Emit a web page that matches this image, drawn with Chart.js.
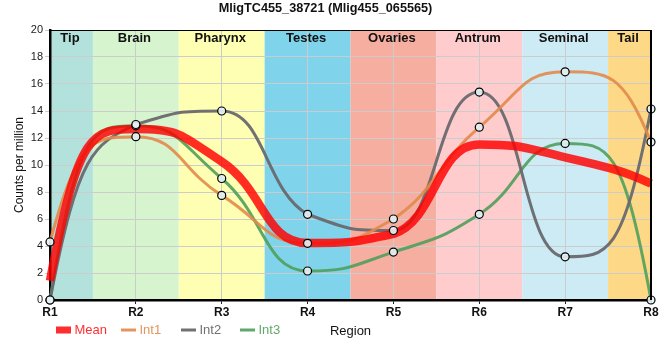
<!DOCTYPE html>
<html><head><meta charset="utf-8">
<script src="https://cdn.jsdelivr.net/npm/chart.js@4.4.1/dist/chart.umd.min.js"></script>
<style>html,body{margin:0;padding:0;background:#fff}#wrap{width:660px;height:360px}</style>
</head><body><div id="wrap"><canvas id="c" width="660" height="360"></canvas></div>
<script>
const regions = ['R1','R2','R3','R4','R5','R6','R7','R8'];
const bandNames = ['Tip','Brain','Pharynx','Testes','Ovaries','Antrum','Seminal','Tail'];
const bandColors = ['#b3e2dd','#d6f5cf','#ffffb3','#7fd3ea','#f5aea0','#ffccce','#cdebf5','#fdd987'];
const seriesNames = ['Mean','Int1','Int2','Int3'];
const meanValues = [1.43, 12.67, 10.25, 4.22, 4.90, 11.52, 10.57, 8.62];
const int1Values = [4.3, 12.1, 7.75, 4.2, 6.0, 12.8, 16.9, 11.7];
const int2Values = [0, 13.0, 14.0, 6.35, 5.15, 15.4, 3.2, 14.15];
const int3Values = [0, 12.9, 9.0, 2.15, 3.55, 6.35, 11.6, 0];
const yMin = 0, yMax = 20, yStep = 2;

const FONT = "'Liberation Sans', Arial, sans-serif";
const meanColor = 'rgba(255,0,0,0.82)';
const intColors = ['rgba(226,138,74,0.9)','rgba(105,105,110,0.95)','rgba(80,158,92,0.9)'];
const intValues = [int1Values, int2Values, int3Values];

const datasets = [];
datasets.push({label: seriesNames[0], data: meanValues, borderColor: meanColor, backgroundColor: meanColor,
  borderWidth: 8.5, pointRadius: 0, cubicInterpolationMode: 'monotone', fill: false, order: 1, clip: false});
intValues.forEach((vals, i) => {
  datasets.push({label: seriesNames[i+1], data: vals, borderColor: intColors[i], backgroundColor: intColors[i],
    borderWidth: 3, pointRadius: 0, cubicInterpolationMode: 'monotone', fill: false, order: 2, clip: false});
});
intValues.forEach((vals, i) => {
  datasets.push({label: seriesNames[i+1] + ' points', data: vals, showLine: false, pointRadius: 4,
    pointBorderWidth: 1.2, pointBorderColor: '#000', pointBackgroundColor: 'rgba(228,242,246,0.9)', order: 0, clip: false});
});

// reshape the library's own monotone curve handles (longer arms, steeper ends)
const ARM = 0.5;
const curvePlugin = {
  id: 'curveShape',
  beforeDatasetsDraw(chart) {
    chart.data.datasets.forEach((ds, di) => {
      if (ds.showLine === false) return;
      const meta = chart.getDatasetMeta(di);
      if (!meta.dataset || meta.data.length < 3) return;
      meta.dataset.updateControlPoints(chart.chartArea, 'x');
      const pts = meta.data, n = pts.length;
      const fix = (m, s) => (Math.sign(m) !== Math.sign(s) ? 0 : m);
      const clamp = (v, a, b) => Math.min(Math.max(v, Math.min(a, b)), Math.max(a, b));
      const m = pts.map((p, i) => {
        if (i < n - 1) { const dx = p.cp2x - p.x; return dx ? (p.cp2y - p.y) / dx : 0; }
        const dx = p.x - p.cp1x; return dx ? (p.y - p.cp1y) / dx : 0;
      });
      const s0 = (pts[1].y - pts[0].y) / (pts[1].x - pts[0].x);
      const sN = (pts[n-1].y - pts[n-2].y) / (pts[n-1].x - pts[n-2].x);
      m[0] = fix(3 * s0 - 2 * m[1], s0);
      m[n-1] = fix(3 * sN - 2 * m[n-2], sN);
      pts.forEach((p, i) => {
        if (i > 0) {
          const q = pts[i-1], dx = p.x - q.x, k = (i === n - 1) ? 1/3 : ARM;
          p.cp1x = p.x - k * dx;
          p.cp1y = clamp(p.y - m[i] * k * dx, q.y, p.y);
        }
        if (i < n - 1) {
          const q = pts[i+1], dx = q.x - p.x, k = (i === 0) ? 1/3 : ARM;
          p.cp2x = p.x + k * dx;
          p.cp2y = clamp(p.y + m[i] * k * dx, p.y, q.y);
        }
      });
    });
  }
};

const bandsPlugin = {
  id: 'bands',
  beforeDraw(chart) {
    const {ctx, chartArea: a, scales: {x}} = chart;
    ctx.save();
    bandColors.forEach((c, i) => {
      const x0 = Math.max(a.left, x.getPixelForValue(i - 0.5));
      const x1 = Math.min(a.right, x.getPixelForValue(i + 0.5));
      ctx.fillStyle = c;
      ctx.fillRect(x0, a.top, x1 - x0, a.bottom - a.top);
    });
    ctx.restore();
  },
  beforeDatasetsDraw(chart) {
    const {ctx, chartArea: a, scales: {x}} = chart;
    ctx.save();
    ctx.font = 'bold 13px ' + FONT;
    ctx.fillStyle = '#111';
    ctx.textAlign = 'center';
    ctx.textBaseline = 'alphabetic';
    bandNames.forEach((n, i) => {
      const x0 = Math.max(a.left, x.getPixelForValue(i - 0.5));
      const x1 = Math.min(a.right, x.getPixelForValue(i + 0.5));
      ctx.fillText(n, (x0 + x1) / 2 - 1.5, a.top + 12);
    });
    ctx.restore();
  },
  afterDraw(chart) {
    const {ctx, chartArea: a} = chart;
    ctx.save();
    ctx.strokeStyle = '#000';
    ctx.lineWidth = 1;
    ctx.beginPath(); ctx.moveTo(a.left, a.top + 0.5); ctx.lineTo(a.right, a.top + 0.5); ctx.stroke();
    ctx.lineWidth = 2;
    ctx.beginPath(); ctx.moveTo(a.right, a.top); ctx.lineTo(a.right, a.bottom); ctx.stroke();
    // legend
    const legendX = [56, 121, 181, 240];
    const colors = [meanColor].concat(intColors);
    const y = 330;
    ctx.font = '13px ' + FONT;
    ctx.textBaseline = 'middle';
    ctx.textAlign = 'left';
    seriesNames.forEach((n, i) => {
      const lx = legendX[i];
      if (i === 0) {
        ctx.fillStyle = colors[i];
        ctx.fillRect(lx, y - 3.5, 15, 7);
      } else {
        ctx.strokeStyle = colors[i];
        ctx.lineWidth = 3;
        ctx.beginPath(); ctx.moveTo(lx, y); ctx.lineTo(lx + 15, y); ctx.stroke();
      }
      ctx.fillStyle = colors[i];
      ctx.fillText(n, lx + 18.5, y + 0.5);
    });
    ctx.restore();
  }
};

new Chart(document.getElementById('c'), {
  type: 'line',
  data: {labels: regions, datasets},
  plugins: [bandsPlugin, curvePlugin],
  options: {
    responsive: false,
    animation: false,
    devicePixelRatio: 1,
    layout: {padding: {top: 0, right: 9, bottom: 14, left: 0}},
    plugins: {
      legend: {display: false},
      tooltip: {enabled: false},
      title: {display: true, text: 'MligTC455_38721 (Mlig455_065565)', color: '#111',
        font: {family: FONT, size: 12.7, weight: 'bold'}, padding: {top: 1, bottom: 13.76}}
    },
    scales: {
      x: {
        type: 'category', offset: false,
        ticks: {color: '#111', font: {family: FONT, size: 12, weight: 'bold'}, padding: 1, maxRotation: 0, autoSkip: false},
        grid: {color: '#cccccc', tickLength: 4, tickColor: '#222', offset: false},
        border: {color: '#000', width: 2.5},
        title: {display: true, text: 'Region', color: '#111', font: {family: FONT, size: 13}, padding: {top: 0, bottom: 7.2}},
        afterFit: s => { s.height = 46; }
      },
      y: {
        min: yMin, max: yMax,
        ticks: {stepSize: yStep, color: '#1a1a1a', font: {family: FONT, size: 11}, padding: 2},
        grid: {color: '#cccccc', tickLength: 5, tickColor: '#cccccc'},
        border: {color: '#000', width: 2.5},
        title: {display: true, text: 'Counts per million', color: '#111', font: {family: FONT, size: 12}, padding: {top: 12.8, bottom: 0}},
        afterFit: s => { s.width = 50; }
      }
    }
  }
});
</script></body></html>
